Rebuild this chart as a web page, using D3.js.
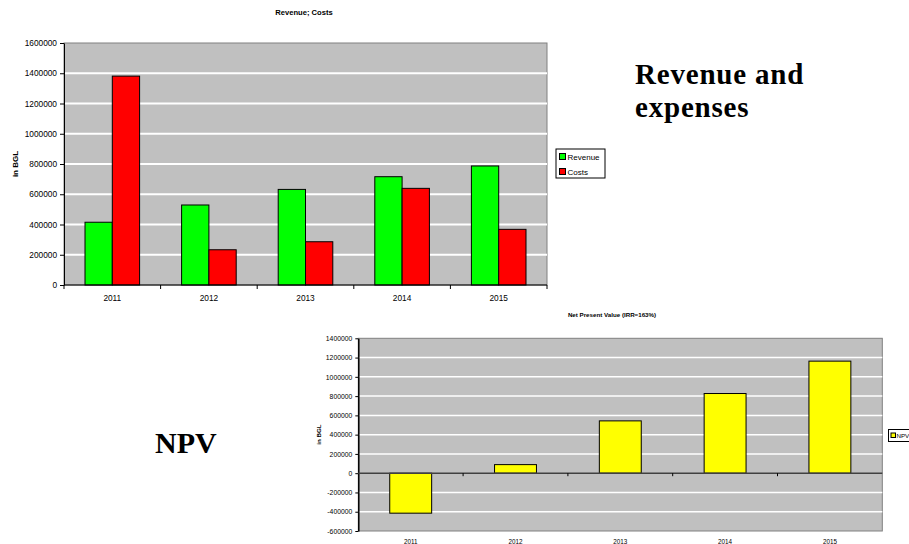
<!DOCTYPE html>
<html>
<head>
<meta charset="utf-8">
<script src="https://cdn.jsdelivr.net/npm/d3@7"></script>
<style>
  body { margin: 0; background: #fff; }
  svg { display: block; }
  .sans { font-family: "Liberation Sans", Arial, sans-serif; }
  .serif { font-family: "Liberation Serif", "Times New Roman", serif; font-weight: bold; }
</style>
</head>
<body>
<div class="container"></div>
<script>
const WIDTH = 909;
const HEIGHT = 544;

// data
var years = ["2011", "2012", "2013", "2014", "2015"];
var revenue = [415000, 529000, 632000, 716000, 787000];
var costs = [1381000, 233000, 286000, 639000, 368000];
var npv = [-415000, 89000, 543000, 827000, 1163000];
var seriesNames = ["Revenue", "Costs"];
var seriesColors = ["#00ff00", "#ff0000"];
var topTicks = [0, 200000, 400000, 600000, 800000, 1000000, 1200000, 1400000, 1600000];
var npvTicks = [-600000, -400000, -200000, 0, 200000, 400000, 600000, 800000, 1000000, 1200000, 1400000];

var svg = d3.select(".container").append("svg")
  .attr("width", WIDTH)
  .attr("height", HEIGHT)
  .attr("class", "sans");

var translate = function(x, y){
  return "translate(" + x + ", " + y + ")";
};

var plotArea = function(g, w, h, yScale, ticks, gridW){
  g.append("rect")
    .attr("x", 0).attr("y", 0)
    .attr("width", w).attr("height", h)
    .attr("fill", "#c0c0c0")
    .attr("stroke", "#808080")
    .attr("stroke-width", 1);
  g.selectAll("line.grid").data(ticks.filter(function(t){ return t !== 0 && yScale(t) > 1 && yScale(t) < h - 1; }))
    .enter().append("line")
    .attr("class", "grid")
    .attr("x1", 0).attr("x2", w)
    .attr("y1", function(d){ return yScale(d); })
    .attr("y2", function(d){ return yScale(d); })
    .attr("stroke", "#fff")
    .attr("stroke-width", gridW);
};

var styleAxis = function(g, size, color){
  g.selectAll("path").attr("stroke", color);
  g.selectAll("line").attr("stroke", color);
  g.selectAll("text")
    .attr("fill", "#000")
    .style("font-size", size + "px")
    .style("font-family", "Liberation Sans, Arial, sans-serif");
};

// ---------- top chart: revenue & costs ----------
(function(){
  var left = 64, top = 43, w = 483, h = 242;
  var g = svg.append("g").attr("transform", translate(left, top));

  var y = d3.scaleLinear().domain([0, 1600000]).range([h, 0]);
  var x0 = d3.scaleBand().domain(years).range([0, w])
    .paddingInner(0.4348).paddingOuter(0.2174);
  var x1 = d3.scaleBand().domain(seriesNames).range([0, x0.bandwidth()]);

  plotArea(g, w, h, y, topTicks, 2);

  var groups = g.selectAll("g.year").data(years).enter().append("g")
    .attr("transform", function(d){ return translate(x0(d), 0); });
  groups.selectAll("rect").data(function(d, i){
      return [{s: "Revenue", v: revenue[i], c: seriesColors[0]}, {s: "Costs", v: costs[i], c: seriesColors[1]}];
    })
    .enter().append("rect")
    .attr("x", function(d){ return x1(d.s); })
    .attr("y", function(d){ return y(d.v); })
    .attr("width", x1.bandwidth())
    .attr("height", function(d){ return h - y(d.v); })
    .attr("fill", function(d){ return d.c; })
    .attr("stroke", "#000")
    .attr("stroke-width", 1);

  var yAxis = d3.axisLeft(y).tickValues(topTicks).tickSize(4).tickSizeOuter(0)
    .tickFormat(function(d){ return String(d); });
  var yG = g.append("g").call(yAxis);
  styleAxis(yG, 8.3, "#000");

  // category boundary ticks
  var step = x0.step();
  var xAxisG = g.append("g").attr("transform", translate(0, h));
  xAxisG.append("line").attr("x1", 0).attr("x2", w).attr("stroke", "#000");
  xAxisG.selectAll("line.tk").data(d3.range(years.length + 1)).enter().append("line")
    .attr("class", "tk")
    .attr("x1", function(i){ return i * step; }).attr("x2", function(i){ return i * step; })
    .attr("y1", 0).attr("y2", 4).attr("stroke", "#000");
  xAxisG.selectAll("text").data(years).enter().append("text")
    .attr("x", function(d){ return x0(d) + x0.bandwidth() / 2; })
    .attr("y", 16)
    .attr("text-anchor", "middle")
    .style("font-size", "8.3px")
    .text(function(d){ return d; });

  svg.append("text")
    .attr("x", 304).attr("y", 15)
    .attr("text-anchor", "middle")
    .attr("font-weight", "bold")
    .style("font-size", "7.6px")
    .text("Revenue; Costs");

  svg.append("text")
    .attr("transform", translate(18, top + h / 2) + " rotate(-90)")
    .attr("text-anchor", "middle")
    .attr("font-weight", "bold")
    .style("font-size", "8px")
    .text("in BGL");

  // legend
  var lg = svg.append("g").attr("transform", translate(556, 149));
  lg.append("rect").attr("width", 49).attr("height", 29)
    .attr("fill", "#fff").attr("stroke", "#000").attr("stroke-width", 1);
  seriesNames.forEach(function(s, i){
    lg.append("rect").attr("x", 3.5).attr("y", 4.5 + i * 15)
      .attr("width", 6).attr("height", 6)
      .attr("fill", seriesColors[i]).attr("stroke", "#000");
    lg.append("text").attr("x", 11.5).attr("y", 10.5 + i * 15)
      .style("font-size", "8px").text(s);
  });
})();

// ---------- bottom chart: NPV ----------
(function(){
  var left = 358.3, top = 338.3, w = 524, h = 192.7;
  var g = svg.append("g").attr("transform", translate(left, top));

  var y = d3.scaleLinear().domain([-600000, 1400000]).range([h, 0]);
  var x = d3.scaleBand().domain(years).range([0, w])
    .paddingInner(0.6).paddingOuter(0.3);

  plotArea(g, w, h, y, npvTicks, 1.5);

  g.selectAll("rect.bar").data(npv).enter().append("rect")
    .attr("class", "bar")
    .attr("x", function(d, i){ return x(years[i]); })
    .attr("y", function(d){ return y(Math.max(0, d)); })
    .attr("width", x.bandwidth())
    .attr("height", function(d){ return Math.abs(y(d) - y(0)); })
    .attr("fill", "#ffff00")
    .attr("stroke", "#000")
    .attr("stroke-width", 1);

  var yAxis = d3.axisLeft(y).tickValues(npvTicks).tickSize(3).tickSizeOuter(0)
    .tickFormat(function(d){ return String(d); });
  var yG = g.append("g").call(yAxis);
  styleAxis(yG, 6.8, "#000");
  yG.select("path").attr("stroke-width", 1.5);

  var step = x.step();
  var zx = g.append("g").attr("transform", translate(0, y(0)));
  zx.append("line").attr("x1", 0).attr("x2", w).attr("stroke", "#404040").attr("stroke-width", 1.5);
  zx.selectAll("line.tk").data(d3.range(1, years.length)).enter().append("line")
    .attr("class", "tk")
    .attr("x1", function(i){ return i * step; }).attr("x2", function(i){ return i * step; })
    .attr("y1", 0).attr("y2", 3).attr("stroke", "#000");
  g.selectAll("text.cat").data(years).enter().append("text")
    .attr("class", "cat")
    .attr("x", function(d){ return x(d) + x.bandwidth() / 2; })
    .attr("y", h + 13)
    .attr("text-anchor", "middle")
    .style("font-size", "6.3px")
    .text(function(d){ return d; });

  svg.append("text")
    .attr("x", 612).attr("y", 317)
    .attr("text-anchor", "middle")
    .attr("font-weight", "bold")
    .style("font-size", "6.2px")
    .text("Net Present Value (IRR=163%)");

  svg.append("text")
    .attr("transform", translate(321, top + h / 2) + " rotate(-90)")
    .attr("text-anchor", "middle")
    .attr("font-weight", "bold")
    .style("font-size", "6.2px")
    .text("in BGL");

  var lg = svg.append("g").attr("transform", translate(888.5, 429.5));
  lg.append("rect").attr("width", 30).attr("height", 12)
    .attr("fill", "#fff").attr("stroke", "#000").attr("stroke-width", 1);
  lg.append("rect").attr("x", 2.5).attr("y", 3.5).attr("width", 4.5).attr("height", 4.5)
    .attr("fill", "#ffff00").attr("stroke", "#000");
  lg.append("text").attr("x", 8).attr("y", 8.5)
    .style("font-size", "6.2px").text("NPV");
})();

// big captions
svg.append("text").attr("class", "serif")
  .attr("x", 635).attr("y", 84)
  .style("font-size", "29px")
  .style("letter-spacing", "0.8px")
  .text("Revenue and");
svg.append("text").attr("class", "serif")
  .attr("x", 635).attr("y", 117)
  .style("font-size", "29px")
  .style("letter-spacing", "0.8px")
  .text("expenses");

svg.append("text").attr("class", "serif")
  .attr("x", 155).attr("y", 453)
  .style("font-size", "30px")
  .text("NPV");
</script>
</body>
</html>
